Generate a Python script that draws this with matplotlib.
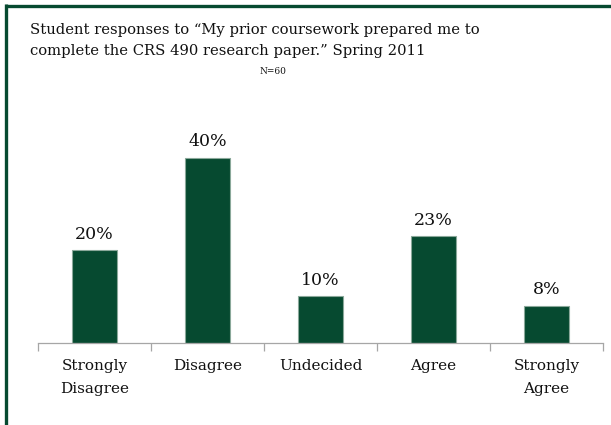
import matplotlib
matplotlib.use("Agg")
import matplotlib.pyplot as plt
from matplotlib.lines import Line2D

categories = ["Strongly\nDisagree", "Disagree", "Undecided", "Agree", "Strongly\nAgree"]
percents = [20, 40, 10, 23, 8]
title_lines = ["Student responses to \u201cMy prior coursework prepared me to",
               "complete the CRS 490 research paper.\u201d Spring 2011"]
sample_note = "N=60"

GREEN = "#064a30"
FONT = "DejaVu Serif"

fig = plt.figure(figsize=(6.11, 4.25), dpi=100)
fig.patch.set_facecolor("white")

# frame lines along the top and left edge
fig.add_artist(Line2D([4.5 / 611, 1.0], [1 - 5.5 / 425, 1 - 5.5 / 425],
                      transform=fig.transFigure, color=GREEN, lw=2.4,
                      solid_capstyle="butt"))
fig.add_artist(Line2D([5.5 / 611, 5.5 / 611], [1 - 4 / 425, 0.0],
                      transform=fig.transFigure, color=GREEN, lw=2.4,
                      solid_capstyle="butt"))

fig.text(30 / 611, 1 - 30 / 425, title_lines[0], fontsize=10.6, family=FONT,
         va="center", ha="left", color="#111111")
fig.text(30 / 611, 1 - 51 / 425, title_lines[1], fontsize=10.6, family=FONT,
         va="center", ha="left", color="#111111")
fig.text(273 / 611, 1 - 71 / 425, sample_note, fontsize=6.5, family=FONT,
         va="center", ha="center", color="#111111")

ax = fig.add_axes([38 / 611, 82.3 / 425, 565 / 611, 208 / 425])
x = list(range(len(categories)))
bars = ax.bar(x, percents, width=0.4, color=GREEN, edgecolor="#8aa89a",
              linewidth=0.8, zorder=2)
for xi, v in zip(x, percents):
    ax.text(xi, v + 1.6, f"{v}%", ha="center", va="bottom", fontsize=12.5,
            family=FONT, color="#111111")

ax.set_xlim(-0.5, len(categories) - 0.5)
ax.set_ylim(0, 45)
for side in ("top", "right", "left"):
    ax.spines[side].set_visible(False)
ax.spines["bottom"].set_color("#a6a6a6")
ax.spines["bottom"].set_linewidth(0.9)
ax.set_yticks([])
ax.set_xticks(x)
ax.set_xticklabels(categories, family=FONT, fontsize=11, color="#111111",
                   linespacing=1.75)
ax.tick_params(axis="x", which="major", length=0, pad=12)
ax.set_xticks([i - 0.5 for i in range(len(categories) + 1)], minor=True)
ax.tick_params(axis="x", which="minor", length=5.5, color="#a6a6a6", width=0.9)
for lbl in ax.get_xticklabels():
    lbl.set_verticalalignment("top")

fig.savefig("out.png", dpi=100)
